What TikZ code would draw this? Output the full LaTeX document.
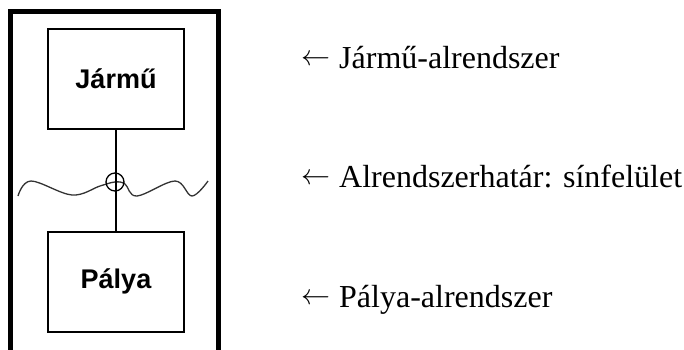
\documentclass[tikz,border=0pt]{standalone}
\usepackage{fontspec}
\setmainfont{Liberation Serif}
\setsansfont{Liberation Sans}
\usetikzlibrary{positioning}
\tikzset{
  blk/.style={
    draw, line width=2pt,
    minimum width=136pt, minimum height=100pt,
    inner sep=0pt,
    font=\sffamily\bfseries\fontsize{27}{32}\selectfont
  },
  keret/.style={line width=4.5pt},
  cnt/.style={
    draw, circle, line width=1.3pt, minimum size=18pt, inner sep=0pt
  },
  line/.style={line width=2pt},
  wave/.style={line width=1.3pt, black!80},
  lbl/.style={anchor=base west, inner sep=0pt,
    font=\fontsize{32}{38}\selectfont}
}
\newcommand{\bal}{%
  \raisebox{2.5pt}{\scalebox{2.9}{\fontsize{10}{12}\selectfont$\leftarrow$}}%
  \hspace{9pt}}

\begin{document}
\begin{tikzpicture}[x=1pt, y=-1pt]
  \useasboundingbox (0,0) rectangle (684,349);

  % outer frame, open at the bottom
  \draw[keret] (10.5,352) |- (218.5,11.5) -- (218.5,352);

  \node[blk] (jarmu) at (116,79)    {Jármű};
  \node[blk] (palya) at (116,281.5) {Pálya};

  % rail surface
  \draw[wave] plot[smooth, tension=0.6] coordinates {
    (18,196) (31,181) (72,195) (100,186) (115,182) (125,184)
    (137,196) (175,181) (192,196) (208,181)};

  \node[cnt] (hatar) at (115,182) {};
  \draw[line] (jarmu.south) -- (palya.north);

  \node[lbl] (lj) at (301,68)  {\bal Jármű-alrendszer};
  \node[lbl] (lh) at (301,187) {\bal Alrendszerhatár: sínfelület};
  \node[lbl] (lp) at (301,307) {\bal Pálya-alrendszer};
\end{tikzpicture}
\end{document}
